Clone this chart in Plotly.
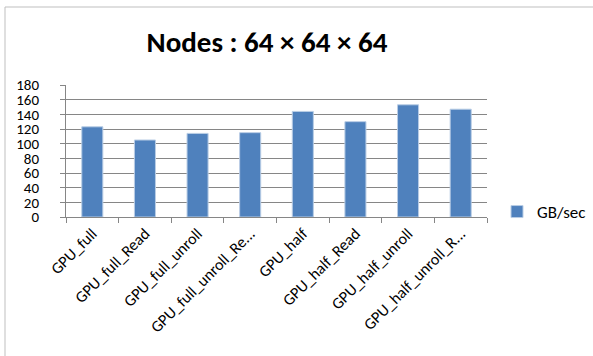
import plotly.graph_objects as go

categories = ["GPU_full", "GPU_full_Read", "GPU_full_unroll", "GPU_full_unroll_Read",
              "GPU_half", "GPU_half_Read", "GPU_half_unroll", "GPU_half_unroll_Read"]
tick_labels = ["GPU_full", "GPU_full_Read", "GPU_full_unroll", "GPU_full_unroll_Re...",
               "GPU_half", "GPU_half_Read", "GPU_half_unroll", "GPU_half_unroll_R..."]
gb_per_sec = [123, 105, 114, 115, 144, 130, 153, 147]
y_ticks = [0, 20, 40, 60, 80, 100, 120, 140, 160, 180]

W, H = 593, 356
L, R, T, B = 66, 106, 85, 139
pw, ph = W - L - R, H - T - B

def px(x):
    return (x - L) / pw

def py(y):
    return (H - B - y) / ph

font = "Carlito, Liberation Sans, Arial, sans-serif"

fig = go.Figure()
fig.add_trace(go.Bar(
    x=categories, y=gb_per_sec, name="GB/sec",
    marker=dict(color="#4F81BD", line=dict(color="#B9CDE5", width=1)),
    width=0.4,
))

fig.update_layout(
    width=W, height=H,
    margin=dict(l=L, r=R, t=T, b=B, autoexpand=False),
    paper_bgcolor="white", plot_bgcolor="white",
    font=dict(family=font, size=16, color="black"),
    title=dict(text="<b>Nodes : 64 × 64 × 64</b>", xref="container", x=267 / W,
               xanchor="center", yref="container", y=1 - 42 / H, yanchor="middle",
               font=dict(size=29, family=font)),
    showlegend=True,
    legend=dict(x=px(497), y=py(212), xanchor="left", yanchor="middle",
                font=dict(size=17), bgcolor="rgba(0,0,0,0)",
                itemwidth=30, tracegroupgap=0),
    bargap=0.6,
)
fig.update_xaxes(
    tickmode="array", tickvals=categories, ticktext=tick_labels,
    tickangle=-45, tickson="boundaries", ticks="outside", ticklen=5,
    tickcolor="#868686", showline=True, linecolor="#868686", linewidth=1,
    showgrid=False, tickfont=dict(size=16),
)
fig.update_yaxes(
    range=[0, 180], tickmode="array", tickvals=y_ticks,
    ticks="outside", ticklen=5, tickcolor="#868686",
    showline=True, linecolor="#868686", linewidth=1,
    showgrid=True, gridcolor="#868686", gridwidth=1,
    zeroline=False, tickfont=dict(size=15), ticklabelstandoff=18,
)
fig.add_shape(type="rect", xref="paper", yref="paper",
              x0=px(5), x1=px(W + 20), y0=py(H + 20), y1=py(7),
              line=dict(color="#BFBFBF", width=1), fillcolor="rgba(0,0,0,0)", layer="below")

fig.write_html("out.html")
